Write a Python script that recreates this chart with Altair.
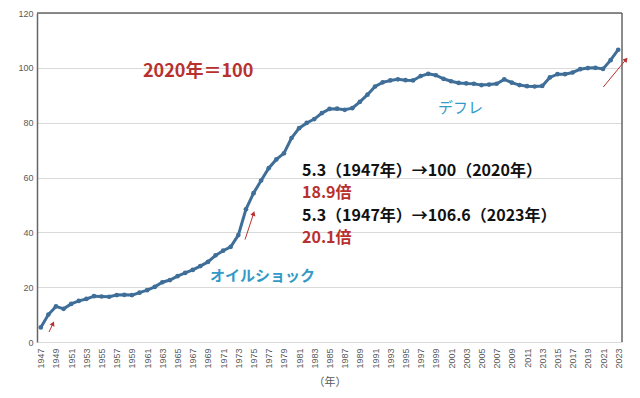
import altair as alt
import pandas as pd

years = list(range(1947, 2024))
cpi = [5.3, 10.0, 13.0, 12.1, 13.9, 15.0, 15.7, 16.7, 16.6, 16.5,
       17.1, 17.2, 17.1, 18.0, 18.9, 20.1, 21.8, 22.6, 24.0, 25.2,
       26.3, 27.7, 29.2, 31.6, 33.3, 34.7, 39.0, 48.4, 54.3, 58.9,
       63.4, 66.6, 68.8, 74.4, 78.0, 79.9, 81.3, 83.5, 85.0, 85.1,
       84.7, 85.3, 87.6, 90.2, 93.2, 94.7, 95.4, 95.8, 95.5, 95.4,
       97.0, 97.8, 97.3, 96.0, 95.1, 94.5, 94.3, 94.2, 93.7, 93.9,
       94.2, 95.8, 94.6, 93.7, 93.3, 93.2, 93.4, 96.5, 97.7, 97.7,
       98.3, 99.5, 99.9, 100.0, 99.6, 102.8, 106.6]
tick_years = list(range(1947, 2024, 2))
y_ticks = [0, 20, 40, 60, 80, 100, 120]

df = pd.DataFrame({"year": years, "cpi": cpi})
one = pd.DataFrame({"k": [0]})

LINE = "#3F6E98"
RED = "#B8312F"
TEAL = "#3399C6"
JP = "Noto Sans CJK JP"

x_scale = alt.Scale(domain=[1946.5, 2023.5], nice=False, zero=False)
y_scale = alt.Scale(domain=[0, 120], nice=False)

x_axis = alt.Axis(values=tick_years, format="d", labelAngle=270, labelAlign="right",
                  labelBaseline="middle", labelFontSize=9, labelColor="#595959",
                  labelFont="Liberation Sans", labelPadding=6, labelOverlap=False,
                  labelSeparation=0, labelBound=False,
                  labelFlush=False, grid=False, ticks=False, domainColor="#d9d9d9",
                  title="（年）", titleFont=JP, titleFontSize=11, titleFontWeight="normal",
                  titleColor="#595959", titlePadding=8)
y_axis = alt.Axis(values=y_ticks, labelFontSize=9, labelColor="#595959",
                  labelFont="Liberation Sans", labelPadding=4, ticks=False,
                  domainColor="#666666", domainWidth=1.5, gridColor="#d9d9d9",
                  title=None)

base = alt.Chart(df).encode(
    x=alt.X("year:Q", scale=x_scale, axis=x_axis),
    y=alt.Y("cpi:Q", scale=y_scale, axis=y_axis),
)
line = base.mark_line(color=LINE, strokeWidth=3)
pts = base.mark_point(color=LINE, filled=True, size=22, opacity=1)

top_rule = alt.Chart(one).mark_rule(color="#666666", strokeWidth=1.5).encode(y=alt.value(0))
right_rule = alt.Chart(one).mark_rule(color="#666666", strokeWidth=1.5).encode(x=alt.value(585))

def arrow(x1, y1, x2, y2, ang):
    r = alt.Chart(one).mark_rule(color=RED, strokeWidth=1).encode(
        x=alt.value(x1), y=alt.value(y1), x2=alt.value(x2), y2=alt.value(y2))
    h = alt.Chart(one).mark_point(shape="triangle-up", filled=True, size=28,
                                  color=RED, opacity=1, angle=ang).encode(
        x=alt.value(x2), y=alt.value(y2))
    return [r, h]

def label(txt, x, y, color, size, weight="bold"):
    return alt.Chart(one).mark_text(text=txt, align="left", baseline="middle",
                                    font=JP, fontSize=size, fontWeight=weight,
                                    color=color).encode(x=alt.value(x), y=alt.value(y))

layers = [top_rule, right_rule, line, pts]
layers += arrow(12.0, 319.0, 16.0, 310.5, 25)
layers += arrow(208.0, 226.6, 216.6, 200.5, 18)
layers += arrow(566.3, 74.0, 589.0, 46.5, 39)
layers += [
    label("2020年＝100", 106, 59.3, RED, 18),
    label("デフレ", 401, 95.3, TEAL, 15, "normal"),
    label("オイルショック", 173, 263.3, TEAL, 15, "bold"),
    label("5.3（1947年）→100（2020年）", 265, 157.5, "#111111", 16),
    label("18.9倍", 265, 180.0, RED, 16),
    label("5.3（1947年）→106.6（2023年）", 265, 202.5, "#111111", 16),
    label("20.1倍", 265, 225.0, RED, 16),
]

chart = alt.layer(*layers).properties(
    width=585, height=329,
    padding={"left": 29, "top": 5, "right": 10, "bottom": 48},
    autosize=alt.AutoSizeParams(type="none"),
    background="white",
).configure_view(stroke=None).configure_axisX(labelOverlap=False)

chart.save("out.html", embed_options={"renderer": "svg", "actions": False})
